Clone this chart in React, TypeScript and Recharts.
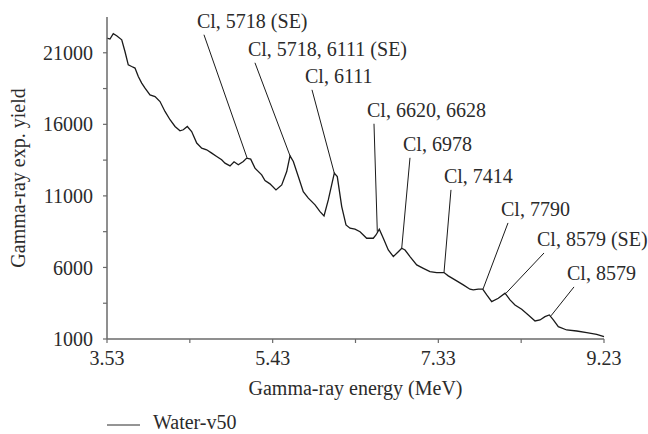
import { LineChart, Line, XAxis, YAxis, ReferenceLine, ReferenceDot, Legend } from 'recharts';

const FONT = '"Liberation Serif", "DejaVu Serif", serif';
const INK = '#2b2b2b';
const AXIS = '#6a6a6a';

// gamma-ray spectrum, energy in MeV
const energy = [
  3.53, 3.564, 3.602, 3.641, 3.699, 3.736, 3.774, 3.813, 3.851, 3.889,
  3.928, 3.966, 4.023, 4.081, 4.138, 4.195, 4.253, 4.31, 4.367, 4.405,
  4.451, 4.501, 4.559, 4.616, 4.673, 4.731, 4.788, 4.845, 4.883, 4.941,
  4.987, 5.036, 5.093, 5.132, 5.178, 5.227, 5.304, 5.342, 5.399, 5.468,
  5.534, 5.591, 5.629, 5.667, 5.724, 5.781, 5.839, 5.916, 5.973, 6.019,
  6.068, 6.137, 6.171, 6.222, 6.271, 6.317, 6.374, 6.432, 6.508, 6.584,
  6.615, 6.653, 6.699, 6.756, 6.814, 6.871, 6.91, 6.948, 7.005, 7.082,
  7.158, 7.234, 7.311, 7.395, 7.444, 7.521, 7.616, 7.693, 7.731, 7.788,
  7.839, 7.885, 7.942, 8.018, 8.095, 8.152, 8.209, 8.286, 8.362, 8.439,
  8.496, 8.553, 8.603, 8.649, 8.706, 8.802, 8.917, 9.032, 9.146, 9.23,
];

const waterV50 = [
  22030, 21960, 22330, 22190, 21910, 21090, 20160, 20040, 19930, 19340,
  18880, 18530, 18060, 17940, 17590, 16900, 16320, 15850, 15550, 15620,
  15850, 15500, 14690, 14340, 14220, 13990, 13750, 13520, 13290, 13100,
  13380, 13170, 13400, 13640, 13570, 12940, 12470, 12070, 11840, 11420,
  11770, 12700, 13800, 13400, 12350, 11300, 10840, 10370, 9900, 9600,
  10720, 12590, 12350, 10250, 8970, 8740, 8670, 8500, 8040, 8040,
  8270, 8670, 8040, 7220, 6760, 7100, 7340, 7220, 6760, 6180,
  5940, 5710, 5640, 5640, 5410, 5130, 4780, 4480, 4430, 4480,
  4480, 4080, 3610, 3850, 4200, 3730, 3380, 3080, 2680, 2260,
  2330, 2560, 2680, 2330, 1860, 1630, 1560, 1440, 1330, 1160,
];

// peak identifications: leader runs from the label anchor to the peak
const peakLabels = [
  'Cl, 5718 (SE)', 'Cl, 5718, 6111 (SE)', 'Cl, 6111', 'Cl, 6620, 6628',
  'Cl, 6978', 'Cl, 7414', 'Cl, 7790', 'Cl, 8579 (SE)', 'Cl, 8579',
];
const peakEnergy = [5.136, 5.629, 6.137, 6.63, 6.91, 7.395, 7.842, 8.106, 8.622];
const peakYield = [13660, 13800, 12590, 8500, 7340, 5640, 4480, 4200, 2620];
const labelEnergy = [4.642, 5.227, 5.881, 6.592, 7.005, 7.475, 8.129, 8.542, 8.886];
const labelYield = [22260, 20300, 18410, 16040, 13660, 11420, 9110, 7010, 4640];

const xTicks = [3.53, 4.48, 5.43, 6.38, 7.33, 8.28, 9.23];
const yTicks = [1000, 3500, 6000, 8500, 11000, 13500, 16000, 18500, 21000];

const spectrum = energy.map((e, i) => ({ e, v: waterV50[i] }));

const tickStyle = { fill: INK, fontSize: 20, fontFamily: FONT };

const YTitle = ({ viewBox }: any) => (
  <text
    x={viewBox.x + 25}
    y={viewBox.y + viewBox.height / 2}
    transform={`rotate(-90, ${viewBox.x + 25}, ${viewBox.y + viewBox.height / 2})`}
    textAnchor="middle"
    fill={INK}
    fontSize={20}
    fontFamily={FONT}
  >
    Gamma-ray exp. yield
  </text>
);

const LegendKey = () => (
  <svg width={200} height={20} style={{ overflow: 'visible', display: 'block' }}>
    <line x1={0} x2={33} y1={12} y2={12} stroke={INK} strokeWidth={1} />
    <text x={46} y={16} fill={INK} fontSize={20} fontFamily={FONT}>
      Water-v50
    </text>
  </svg>
);

export default function App() {
  return (
    <div style={{ position: 'absolute', left: 0, top: 0, width: 648, height: 434, background: '#fff', fontFamily: FONT }}>
      <LineChart width={648} height={434} data={spectrum} margin={{ top: 17, right: 44, bottom: 35, left: 0 }}>
        <XAxis
          dataKey="e"
          type="number"
          domain={[3.53, 9.23]}
          ticks={xTicks}
          interval={0}
          tickFormatter={(v: number, i: number) => (i % 2 === 0 ? v.toFixed(2) : '')}
          height={60}
          axisLine={{ stroke: AXIS, strokeWidth: 1.5 }}
          tickLine={{ stroke: AXIS, strokeWidth: 1.2 }}
          tickSize={4}
          tickMargin={8}
          tick={tickStyle}
          label={{ value: 'Gamma-ray energy (MeV)', position: 'insideBottom', offset: 4, fill: INK, fontSize: 20, fontFamily: FONT }}
        />
        <YAxis
          type="number"
          domain={[1000, 23500]}
          ticks={yTicks}
          interval={0}
          tickFormatter={(v: number, i: number) => (i % 2 === 0 ? String(v) : '')}
          width={107}
          axisLine={{ stroke: AXIS, strokeWidth: 1.5 }}
          tickLine={{ stroke: AXIS, strokeWidth: 1.2 }}
          tickSize={4}
          tickMargin={10}
          tick={tickStyle}
          label={YTitle}
        />
        <Line
          dataKey="v"
          name="Water-v50"
          type="linear"
          stroke="#1a1a1a"
          strokeWidth={1.3}
          dot={false}
          isAnimationActive={false}
        />
        {peakLabels.map((t, i) => (
          <ReferenceLine
            key={`lead-${i}`}
            segment={[
              { x: labelEnergy[i], y: labelYield[i] },
              { x: peakEnergy[i], y: peakYield[i] },
            ]}
            stroke="#1a1a1a"
            strokeWidth={1}
            ifOverflow="visible"
          />
        ))}
        {peakLabels.map((t, i) => (
          <ReferenceDot
            key={`tag-${i}`}
            x={labelEnergy[i]}
            y={labelYield[i]}
            r={0}
            ifOverflow="visible"
            shape={(p: any) => (
              <text x={p.cx - 7} y={p.cy - 7} fill={INK} fontSize={20} fontFamily={FONT}>
                {t}
              </text>
            )}
          />
        ))}
        <Legend
          layout="horizontal"
          verticalAlign="middle"
          align="center"
          wrapperStyle={{ top: 413, left: 107, width: 200, height: 20 }}
          content={LegendKey}
        />
      </LineChart>
    </div>
  );
}
